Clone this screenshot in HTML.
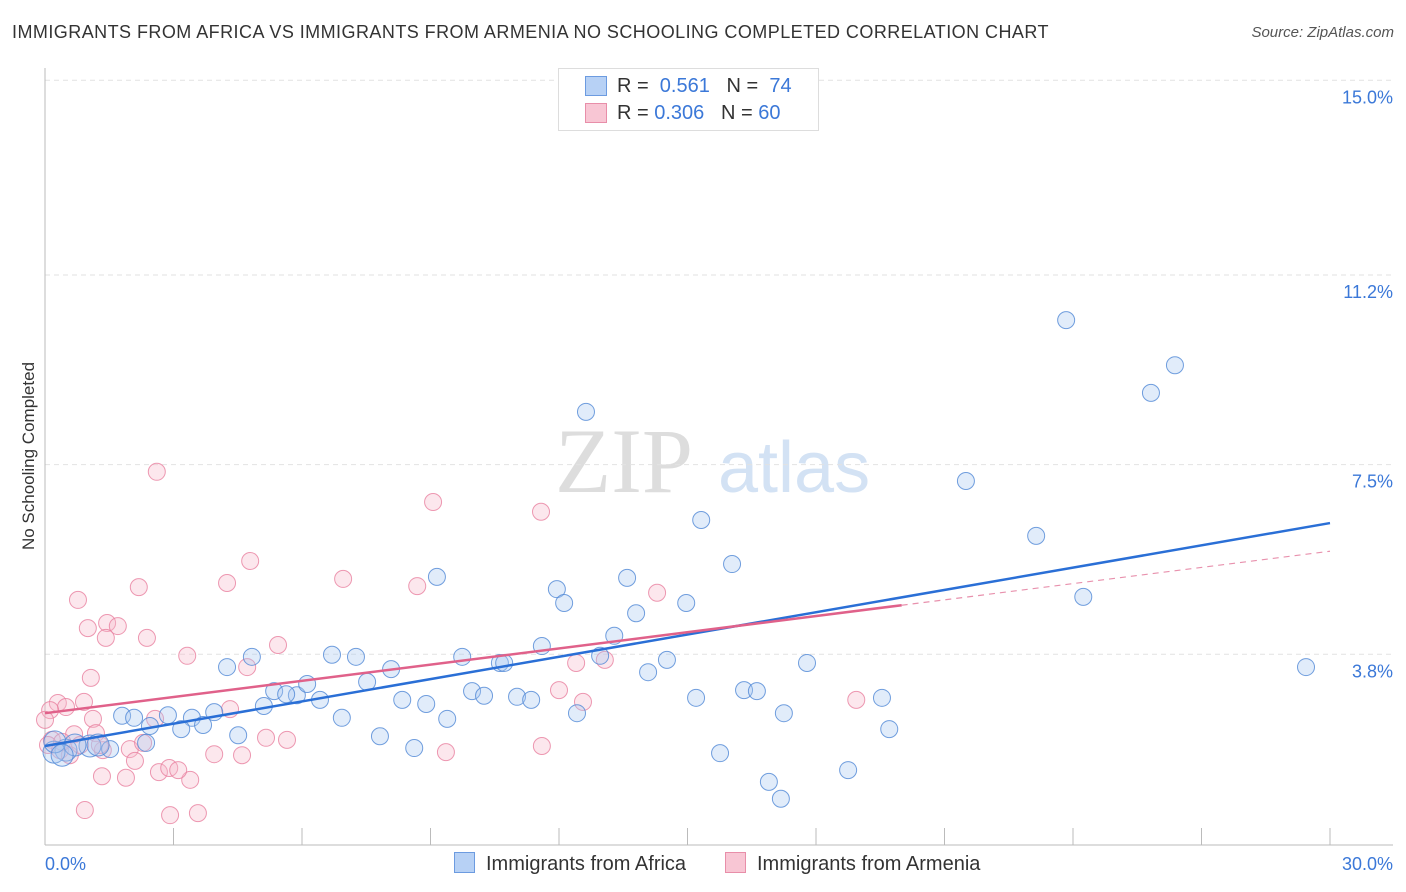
<!DOCTYPE html>
<html><head><meta charset="utf-8">
<style>
body{margin:0;background:#fff;font-family:"Liberation Sans",sans-serif;}
#wrap{position:relative;width:1406px;height:892px;overflow:hidden;}
.t{position:absolute;white-space:nowrap;}
</style></head><body>
<div id="wrap">
<div class="t" style="left:12px;top:22px;font-size:18px;color:#333;letter-spacing:0.45px;">IMMIGRANTS FROM AFRICA VS IMMIGRANTS FROM ARMENIA NO SCHOOLING COMPLETED CORRELATION CHART</div>
<div class="t" style="right:12px;top:24px;font-size:15px;color:#555;font-style:italic;">Source: ZipAtlas.com</div>
<svg id="svg" width="1406" height="892" style="position:absolute;left:0;top:0"></svg>
</div>
<script>
const ns="http://www.w3.org/2000/svg";
const yTicks=[15.0,11.2,7.5,3.8];
const yTickLabels=["15.0%","11.2%","7.5%","3.8%"];
const xEndLabels=["0.0%","30.0%"];
const africaX=[23.84,26.38,25.82,12.63,21.50,15.32,23.14,16.04,9.15,13.59,11.95,12.12,14.97,24.24,13.80,13.29,11.60,29.44,17.79,14.52,14.08,12.96,9.74,10.62,10.72,6.70,7.26,4.83,4.25,8.08,7.52,5.35,5.88,6.12,5.63,6.42,9.97,10.25,11.02,11.35,8.34,8.90,15.20,16.32,16.62,19.54,5.11,3.95,2.87,3.43,1.80,2.08,2.45,3.18,3.69,6.93,9.39,12.42,17.25,4.51,7.82,19.71,2.36,1.52,1.05,0.49,0.21,1.24,8.62,15.76,18.75,16.90,17.18,0.23,0.70,0.40];
const africaY=[10.32,9.44,8.90,8.53,7.18,6.42,6.11,5.56,5.31,5.29,5.07,4.80,4.80,4.92,4.60,4.16,3.96,3.55,3.63,3.69,3.45,3.77,3.75,3.63,3.63,3.79,3.75,3.75,3.55,3.51,3.26,3.08,3.00,3.22,3.02,2.91,3.08,2.99,2.97,2.91,2.91,2.83,2.95,3.10,3.08,2.95,2.79,2.67,2.61,2.56,2.60,2.56,2.40,2.34,2.42,2.56,2.54,2.65,2.65,2.22,2.20,2.34,2.07,1.95,2.01,1.93,1.89,2.03,1.97,1.87,1.54,1.31,0.98,2.09,2.03,1.83];
const armeniaX=[2.61,9.06,11.58,4.79,2.19,4.25,8.69,6.96,14.29,0.77,1.45,1.70,1.00,1.42,2.38,5.44,3.32,4.72,12.40,13.07,1.07,12.00,0.91,0.30,0.49,12.56,18.94,1.12,2.57,4.32,0.12,0.16,0.07,0.68,1.19,5.16,5.65,11.60,9.36,3.95,4.60,1.98,1.35,2.10,0.35,0.58,1.33,1.89,2.66,2.90,3.39,0.93,2.92,3.57,0.00,0.40,0.82,1.28,3.11,2.29];
const armeniaY=[7.36,6.77,6.58,5.62,5.11,5.19,5.13,5.27,5.00,4.86,4.41,4.35,4.31,4.12,4.12,3.98,3.77,3.55,3.63,3.69,3.34,3.10,2.87,2.85,2.77,2.87,2.91,2.54,2.54,2.73,2.71,2.13,2.03,2.24,2.26,2.17,2.13,2.01,1.89,1.85,1.83,1.95,1.93,1.72,1.93,1.83,1.42,1.39,1.50,1.58,1.35,0.76,0.66,0.70,2.52,2.09,2.03,2.03,1.54,2.07];
const africaTrend=[2.01,6.36];
const armeniaTrend=[2.65,5.81];
const armeniaSolidEnd=20.0;
const X0=45,X1=1330,Y0=849,PXY=51.25;
const sx=v=>X0+(v/30)*(X1-X0);
const sy=v=>Y0-v*PXY;
const svg=document.getElementById('svg');
function mk(tag,attrs,parent){const e=document.createElementNS(ns,tag);for(const k in attrs)e.setAttribute(k,attrs[k]);(parent||svg).appendChild(e);return e;}
let wm=mk('text',{x:555,y:492,'font-size':92,'font-family':'Liberation Serif, serif',fill:'#ddd'});wm.textContent='ZIP';


let wm2=mk('text',{x:718,y:492,'font-size':72,'font-family':'Liberation Sans, sans-serif',fill:'#d3e2f4'});wm2.textContent='atlas';


yTicks.forEach((t,i)=>{
 const g=mk('line',{x1:X0,x2:1393,y1:sy(t),y2:sy(t),stroke:'#e2e2e2','stroke-dasharray':'5,4'});
 
 
 const tx=mk('text',{x:1393,y:sy(t)+23,'text-anchor':'end','font-size':18,fill:'#3b78d8','font-family':'Liberation Sans, sans-serif'});
 tx.textContent=yTickLabels[i];
 
 
});
let ax=mk('line',{x1:X0,x2:X0,y1:68,y2:845,stroke:'#bbb'});


let bx=mk('line',{x1:X0,x2:1393,y1:845,y2:845,stroke:'#bbb'});


for(let v=3;v<=30;v+=3){
 const tk=mk('line',{x1:sx(v),x2:sx(v),y1:828,y2:845,stroke:'#bbb'});
 
 
}
let xl=mk('text',{x:45,y:870,'font-size':18,fill:'#3b78d8','font-family':'Liberation Sans, sans-serif'});xl.textContent=xEndLabels[0];


let xr=mk('text',{x:1393,y:870,'text-anchor':'end','font-size':18,fill:'#3b78d8','font-family':'Liberation Sans, sans-serif'});xr.textContent=xEndLabels[1];


let yt=mk('text',{x:34,y:456,'font-size':17,fill:'#333','font-family':'Liberation Sans, sans-serif','text-anchor':'middle',transform:'rotate(-90 34 456)'});yt.textContent='No Schooling Completed';


function pts(xs,ys,fill,stroke,name,big){
 xs.forEach((x,i)=>{
  const r=(big&&x<1.5&&ys[i]<2.3)?11:8.5;
  const c=mk('circle',{cx:sx(x),cy:sy(ys[i]),r:r,fill:fill,'fill-opacity':0.35,stroke:stroke,'stroke-width':1,'stroke-opacity':0.8});
  
  
 });
}
pts(armeniaX,armeniaY,'#f7b9cb','#e8809f','point-armenia',false);
pts(africaX,africaY,'#a9c8f0','#4f87d6','point-africa',true);
const aY=x=>africaTrend[0]+(africaTrend[1]-africaTrend[0])*x/30;
const pY=x=>armeniaTrend[0]+(armeniaTrend[1]-armeniaTrend[0])*x/30;
let tl=mk('line',{x1:sx(0),y1:sy(aY(0)),x2:sx(30),y2:sy(aY(30)),stroke:'#2a6fd6','stroke-width':2.5});


let pl=mk('line',{x1:sx(0),y1:sy(pY(0)),x2:sx(armeniaSolidEnd),y2:sy(pY(armeniaSolidEnd)),stroke:'#e0618a','stroke-width':2.5});


let pd=mk('line',{x1:sx(armeniaSolidEnd),y1:sy(pY(armeniaSolidEnd)),x2:sx(30),y2:sy(pY(30)),stroke:'#e891ad','stroke-width':1.2,'stroke-dasharray':'6,5'});


</script>
<div class="t" style="left:558px;top:68px;width:259px;height:61px;border:1px solid #ddd;background:#fff;font-size:20px;color:#333;">
 <div style="position:absolute;left:26px;top:7px;width:20px;height:18px;background:#b7d1f5;border:1px solid #6c9be0;"></div>
 <div class="t" style="left:58px;top:6px;">R = &nbsp;<span style="color:#3b78d8">0.561</span> &nbsp;&nbsp;N = &nbsp;<span style="color:#3b78d8">74</span></div>
 <div style="position:absolute;left:26px;top:34px;width:20px;height:18px;background:#f8c6d4;border:1px solid #e88ea9;"></div>
 <div class="t" style="left:58px;top:33px;">R = <span style="color:#3b78d8">0.306</span> &nbsp;&nbsp;N = <span style="color:#3b78d8">60</span></div>
</div>
<div class="t" style="left:454px;top:852px;font-size:20px;color:#333;"><span style="display:inline-block;width:19px;height:19px;background:#b7d1f5;border:1px solid #6c9be0;vertical-align:-3px;margin-right:11px;"></span>Immigrants from Africa</div>
<div class="t" style="left:725px;top:852px;font-size:20px;color:#333;"><span style="display:inline-block;width:19px;height:19px;background:#f8c6d4;border:1px solid #e88ea9;vertical-align:-3px;margin-right:11px;"></span>Immigrants from Armenia</div>
</body></html>
